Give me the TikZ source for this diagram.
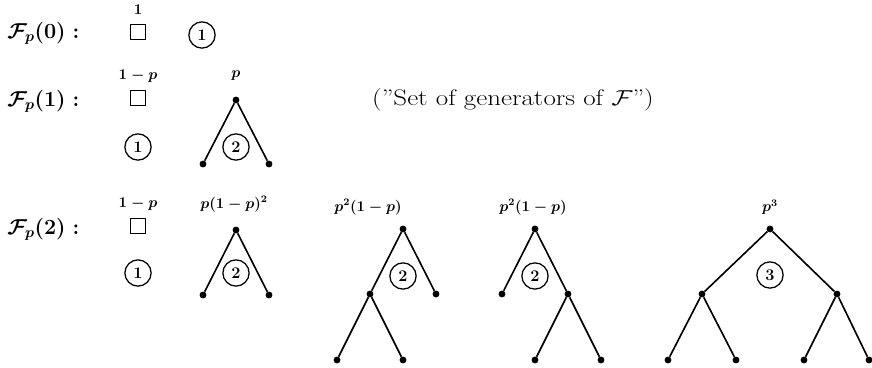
\documentclass[tikz,border=0pt]{standalone}
\usepackage{amsmath}
\usetikzlibrary{positioning}

\begin{document}
\begin{tikzpicture}[
      x=0.8pt, y=-0.8pt,
      dot/.style={circle, fill, inner sep=0pt, minimum size=5.5pt},
      emptybox/.style={rectangle, draw, line width=1pt, minimum size=11.5pt, inner sep=0pt},
      gen/.style={circle, draw, line width=1pt, minimum size=21pt, inner sep=0pt, font=\fontsize{13}{15}\selectfont\bfseries},
      weight/.style={font=\fontsize{12}{14}\selectfont\boldmath},
      rowlab/.style={anchor=west, font=\fontsize{18.2}{22}\selectfont\boldmath},
      edge/.style={line width=1.3pt}
    ]
      \useasboundingbox (0,0) rectangle (872,368);

      % row 0
      \node[rowlab] (row0) at (3,33) {$\mathcal{F}_p(0) :$};
      \node[emptybox] (sq0) at (138,32) {};
      \node[weight] (w0) at (138,10) {$1$};
      \node[gen] (c0) at (202,35) {1};

      % row 1
      \node[rowlab] (row1) at (3,101) {$\mathcal{F}_p(1) :$};
      \node[emptybox] (sq1) at (138,98) {};
      \node[weight] (w1a) at (138,76) {$1-p$};
      \node[gen] (c1a) at (138,147) {1};

      \node[dot] (t1) at (236,100) {};
      \node[dot] (t1l) at (203,164) {};
      \node[dot] (t1r) at (269,164) {};
      \draw[edge] (t1l) -- (t1) -- (t1r);
      \node[gen] (c1b) at (236,147) {2};
      \node[weight] (w1b) at (236,76) {$p$};

      \node[font=\fontsize{18}{21}\selectfont] (note) at (513,100)
        {\scalebox{1.2}[1]{(''Set of generators of $\mathcal{F}$'')}};

      % row 2
      \node[rowlab] (row2) at (3,229) {$\mathcal{F}_p(2) :$};
      \node[emptybox] (sq2) at (138,226) {};
      \node[weight] (w2a) at (138,204) {$1-p$};
      \node[gen] (c2a) at (138,273) {1};

      % p(1-p)^2
      \node[dot] (u) at (236,230) {};
      \node[dot] (ul) at (203,295) {};
      \node[dot] (ur) at (269,295) {};
      \draw[edge] (ul) -- (u) -- (ur);
      \node[gen] (c2b) at (236,273) {2};
      \node[weight] (w2b) at (234,204) {$p(1-p)^2$};

      % p^2(1-p), left branch grown
      \node[dot] (v) at (403,229) {};
      \node[dot] (vl) at (370,294) {};
      \node[dot] (vr) at (436,294) {};
      \node[dot] (vll) at (337,360) {};
      \node[dot] (vlr) at (403,360) {};
      \draw[edge] (vl) -- (v) -- (vr);
      \draw[edge] (vll) -- (vl) -- (vlr);
      \node[gen] (c2c) at (403,276) {2};
      \node[weight] (w2c) at (368,207) {$p^2(1-p)$};

      % p^2(1-p), right branch grown
      \node[dot] (x) at (535,229) {};
      \node[dot] (xl) at (502,294) {};
      \node[dot] (xr) at (568,294) {};
      \node[dot] (xrl) at (535,360) {};
      \node[dot] (xrr) at (601,360) {};
      \draw[edge] (xl) -- (x) -- (xr);
      \draw[edge] (xrl) -- (xr) -- (xrr);
      \node[gen] (c2d) at (535,276) {2};
      \node[weight] (w2d) at (533,207) {$p^2(1-p)$};

      % p^3
      \node[dot] (y) at (770,229) {};
      \node[dot] (yl) at (702,294) {};
      \node[dot] (yr) at (837,294) {};
      \node[dot] (yll) at (668,360) {};
      \node[dot] (ylr) at (736,360) {};
      \node[dot] (yrl) at (804,360) {};
      \node[dot] (yrr) at (869,360) {};
      \draw[edge] (yl) -- (y) -- (yr);
      \draw[edge] (yll) -- (yl) -- (ylr);
      \draw[edge] (yrl) -- (yr) -- (yrr);
      \node[gen] (c2e) at (770,275) {3};
      \node[weight] (w2e) at (770,207) {$p^3$};
    \end{tikzpicture}
\end{document}
